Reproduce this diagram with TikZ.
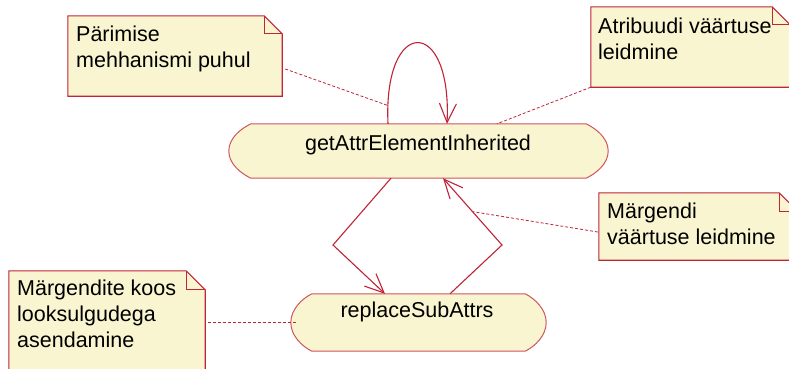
\documentclass[tikz,border=0pt]{standalone}
\usepackage{fontspec}
\setmainfont{Liberation Sans}
\usetikzlibrary{arrows.meta,calc}

\definecolor{umlfill}{RGB}{249,245,208}
\definecolor{umlred}{RGB}{192,36,56}
\definecolor{stateedge}{RGB}{208,84,94}

\tikzset{
  bodybox/.style={rectangle, inner sep=0pt, draw=none},
  stateedgeline/.style={draw=stateedge, fill=umlfill, line width=1pt, line join=miter},
  noteedge/.style={draw=umlred, fill=umlfill, line width=1.1pt, line join=miter},
  notetext/.style={inner sep=0pt, align=left, anchor=base west,
    font=\fontsize{21.5}{26}\selectfont},
  statetext/.style={inner sep=0pt, anchor=base,
    font=\fontsize{21.5}{26}\selectfont},
  trans/.style={draw=umlred, line width=1.1pt,
    -{Straight Barb[length=19pt,width=17pt]}},
  anchorline/.style={draw=umlred, line width=0.8pt, dash pattern=on 3pt off 2pt},
}

% outline of a UML note with a folded corner: #1 node, #2 fold size
\newcommand{\drawnote}[2]{%
  \filldraw[noteedge] (#1.south west) -- (#1.north west)
    -- ([xshift=-#2]#1.north east) -- ([yshift=-#2]#1.north east)
    -- (#1.south east) -- cycle;
  \draw[noteedge, fill=none] ([xshift=-#2]#1.north east) |- ([yshift=-#2]#1.north east);}

% outline of a state: flat top and bottom, bulging ends; #1 node, #2 end depth
\newcommand{\drawstate}[2]{%
  \filldraw[stateedgeline] ([xshift=#2]#1.north west) -- ([xshift=-#2]#1.north east)
    .. controls +(10,5) and +(0,-13) .. (#1.east)
    .. controls +(0,13) and +(10,-5) .. ([xshift=-#2]#1.south east)
    -- ([xshift=#2]#1.south west)
    .. controls +(-10,-5) and +(0,13) .. (#1.west)
    .. controls +(0,-13) and +(-10,5) .. ([xshift=#2]#1.north west) -- cycle;}

\begin{document}
\begin{tikzpicture}[x=1pt, y=-1pt]
  \fill[white] (0,0) rectangle (789,368);
  \path[use as bounding box, clip] (0,0) rectangle (789,368);

  % notes
  \node[bodybox, minimum width=214pt, minimum height=80pt] (n1) at (175,56) {};
  \drawnote{n1}{18pt}
  \node[notetext] (n1t) at (76,67.5) {Pärimise\\mehhanismi puhul};

  \node[bodybox, minimum width=199pt, minimum height=80pt] (n2) at (690.5,47) {};
  \drawnote{n2}{18pt}
  \node[notetext] (n2t) at (598,59) {Atribuudi väärtuse\\leidmine};

  \node[bodybox, minimum width=199pt, minimum height=67pt] (n3) at (698.5,226.5) {};
  \drawnote{n3}{19pt}
  \node[notetext] (n3t) at (607,244) {Märgendi\\väärtuse leidmine};

  \node[bodybox, minimum width=196pt, minimum height=110pt] (n4) at (107,326) {};
  \drawnote{n4}{19pt}
  \node[notetext] (n4t) at (17,347.5) {Märgendite koos\\looksulgudega\\asendamine};

  % states
  \node[bodybox, minimum width=379pt, minimum height=54pt] (s1) at (418.5,151) {};
  \drawstate{s1}{22pt}
  \node[statetext] (s1t) at (418,150) {getAttrElementInherited};

  \node[bodybox, minimum width=255pt, minimum height=57pt] (s2) at (418.5,322.5) {};
  \drawstate{s2}{21pt}
  \node[statetext] (s2t) at (417,317) {replaceSubAttrs};

  % transitions
  \draw[trans] ([xshift=-30.5pt]s1.north) .. controls +(-5,-108) and +(5,-108)
    .. coordinate[pos=0.06] (loopc) ([xshift=28.5pt]s1.north);

  \coordinate (b1) at (333,245);
  \coordinate (b2) at (502,245);
  \draw[trans] ([xshift=-27.5pt]s1.south) -- (b1) -- ([xshift=-33.5pt]s2.north);
  \draw[trans] ([xshift=31.5pt]s2.north) -- (b2)
    -- coordinate[pos=0.5] (t2m) ([xshift=24.5pt]s1.south);

  % note anchors
  \draw[anchorline] ($(n1.east)+(3,13)$) -- (loopc);
  \draw[anchorline] (n2.south west) -- ([xshift=78.5pt]s1.north);
  \draw[anchorline] ($(n3.west)+(-1,5.5)$) -- (t2m);
  \draw[anchorline] ($(n4.east |- s2.west)+(3,0)$) -- ($(s2.west)+(7,0)$);
\end{tikzpicture}
\end{document}
